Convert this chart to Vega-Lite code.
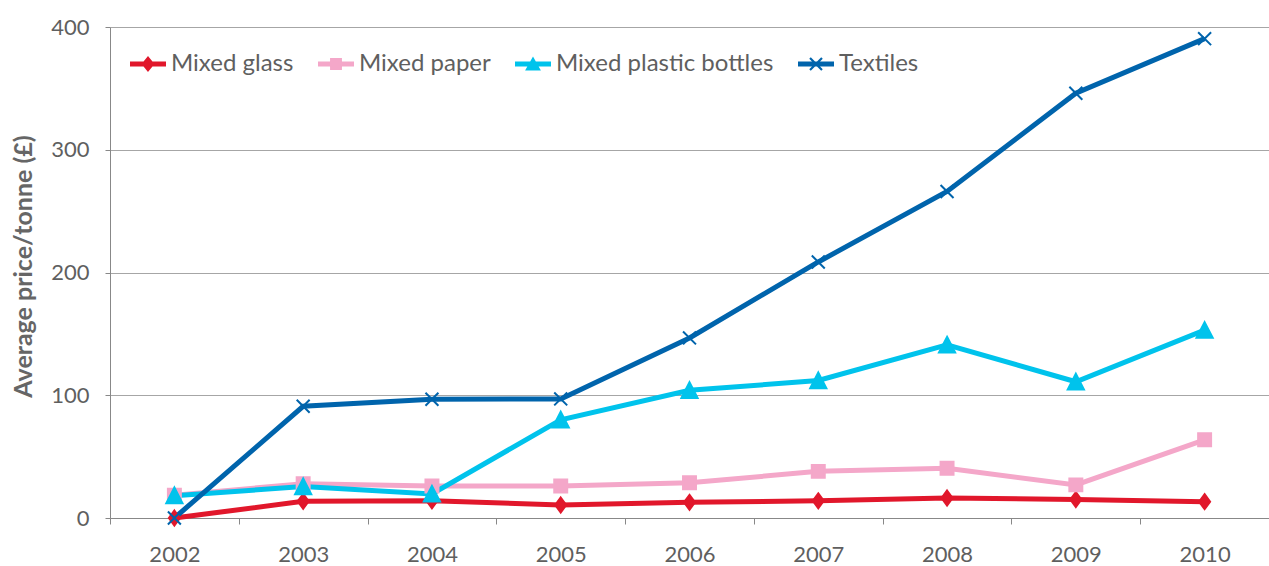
{
  "$schema": "https://vega.github.io/schema/vega-lite/v6.json",
  "width": 1159,
  "height": 491,
  "autosize": {"type": "none"},
  "padding": {"left": 110, "top": 27, "right": 0, "bottom": 48},
  "background": "white",
  "config": {"view": {"stroke": null}, "font": "Lato"},
  "data": {
    "values": [
      {"series": "Mixed glass", "year": "2002", "price": 0},
      {"series": "Mixed glass", "year": "2003", "price": 13.6},
      {"series": "Mixed glass", "year": "2004", "price": 14},
      {"series": "Mixed glass", "year": "2005", "price": 10.6},
      {"series": "Mixed glass", "year": "2006", "price": 12.8},
      {"series": "Mixed glass", "year": "2007", "price": 14},
      {"series": "Mixed glass", "year": "2008", "price": 16.3},
      {"series": "Mixed glass", "year": "2009", "price": 15},
      {"series": "Mixed glass", "year": "2010", "price": 13.3},
      {"series": "Mixed paper", "year": "2002", "price": 18.5},
      {"series": "Mixed paper", "year": "2003", "price": 28},
      {"series": "Mixed paper", "year": "2004", "price": 26},
      {"series": "Mixed paper", "year": "2005", "price": 26},
      {"series": "Mixed paper", "year": "2006", "price": 28.7},
      {"series": "Mixed paper", "year": "2007", "price": 38},
      {"series": "Mixed paper", "year": "2008", "price": 40.5},
      {"series": "Mixed paper", "year": "2009", "price": 27},
      {"series": "Mixed paper", "year": "2010", "price": 63.7},
      {"series": "Mixed plastic bottles", "year": "2002", "price": 18.2},
      {"series": "Mixed plastic bottles", "year": "2003", "price": 25.6},
      {"series": "Mixed plastic bottles", "year": "2004", "price": 19.6},
      {"series": "Mixed plastic bottles", "year": "2005", "price": 80},
      {"series": "Mixed plastic bottles", "year": "2006", "price": 104},
      {"series": "Mixed plastic bottles", "year": "2007", "price": 112},
      {"series": "Mixed plastic bottles", "year": "2008", "price": 141},
      {"series": "Mixed plastic bottles", "year": "2009", "price": 111},
      {"series": "Mixed plastic bottles", "year": "2010", "price": 153},
      {"series": "Textiles", "year": "2002", "price": 0},
      {"series": "Textiles", "year": "2003", "price": 91},
      {"series": "Textiles", "year": "2004", "price": 96.7},
      {"series": "Textiles", "year": "2005", "price": 97},
      {"series": "Textiles", "year": "2006", "price": 146.7},
      {"series": "Textiles", "year": "2007", "price": 208.6},
      {"series": "Textiles", "year": "2008", "price": 266},
      {"series": "Textiles", "year": "2009", "price": 346},
      {"series": "Textiles", "year": "2010", "price": 390.5}
    ]
  },
  "encoding": {
    "x": {
      "field": "year",
      "type": "ordinal",
      "scale": {"type": "point", "padding": 0.5},
      "axis": {
        "title": null,
        "labelAngle": 0,
        "tickOffset": -64.4,
        "labelOffset": 64.4,
        "tickSize": 6,
        "tickColor": "#888888",
        "domainColor": "#888888",
        "labelFontSize": 22,
        "labelColor": "#5f5f5f",
        "labelPadding": 20,
        "grid": false
      }
    },
    "y": {
      "field": "price",
      "type": "quantitative",
      "scale": {"domain": [0, 400]},
      "axis": {
        "title": "Average price/tonne (£)",
        "titleFontSize": 25,
        "titleFontWeight": "bold",
        "titleColor": "#666666",
        "titleX": -87,
        "titleY": 239,
        "titleBaseline": "middle",
        "titleAlign": "center",
        "titleAngle": -90,
        "values": [0, 100, 200, 300, 400],
        "tickSize": 5,
        "labelPadding": 16,
        "labelFontSize": 22,
        "labelColor": "#5f5f5f",
        "grid": true,
        "gridColor": "#a6a6a6",
        "domainColor": "#888888",
        "tickColor": "#888888"
      }
    }
  },
  "resolve": {
    "scale": {"shape": "independent"},
    "legend": {"color": "independent", "shape": "independent"}
  },
  "layer": [
    {
      "mark": {"type": "point", "filled": true, "opacity": 0, "size": 1296},
      "encoding": {
        "color": {
          "field": "series",
          "type": "nominal",
          "scale": {
            "domain": ["Mixed glass", "Mixed paper", "Mixed plastic bottles", "Textiles"],
            "range": ["#e1172b", "#f4a7c9", "#00c3ec", "#0064ac"]
          },
          "legend": {
            "title": null,
            "orient": "none",
            "legendX": 20,
            "legendY": 19,
            "direction": "horizontal",
            "symbolSize": 1296,
            "symbolOpacity": 1,
            "symbolStrokeWidth": 0,
            "labelFontSize": 24,
            "labelLimit": 500,
            "labelColor": "#5f5f5f",
            "labelOffset": 5,
            "columnPadding": 24,
            "padding": 0
          }
        },
        "shape": {
          "field": "series",
          "type": "nominal",
          "scale": {
            "domain": ["Mixed glass", "Mixed paper", "Mixed plastic bottles", "Textiles"],
            "range": [
              "M-1,-0.14H1V0.14H-1Z M0,-0.44L0.36,0L0,0.44L-0.36,0Z",
              "M-1,-0.14H1V0.14H-1Z M-0.33,-0.33H0.33V0.33H-0.33Z",
              "M-1,-0.14H1V0.14H-1Z M0,-0.42L0.44,0.36H-0.44Z",
              "M-1,-0.14H1V0.14H-1Z M0,0.085L-0.29,0.375L-0.375,0.29L-0.085,0L-0.375,-0.29L-0.29,-0.375L0,-0.085L0.29,-0.375L0.375,-0.29L0.085,0L0.375,0.29L0.29,0.375Z"
            ]
          },
          "legend": {
            "title": null,
            "orient": "none",
            "legendX": 20,
            "legendY": 19,
            "direction": "horizontal",
            "symbolSize": 1296,
            "symbolOpacity": 1,
            "symbolStrokeWidth": 0,
            "labelFontSize": 24,
            "labelLimit": 500,
            "labelColor": "#5f5f5f",
            "labelOffset": 5,
            "columnPadding": 24,
            "padding": 0
          }
        }
      }
    },
    {
      "mark": {"type": "line", "strokeWidth": 5},
      "encoding": {
        "stroke": {
          "field": "series",
          "type": "nominal",
          "scale": {
            "domain": ["Mixed glass", "Mixed paper", "Mixed plastic bottles", "Textiles"],
            "range": ["#e1172b", "#f4a7c9", "#00c3ec", "#0064ac"]
          },
          "legend": null
        }
      }
    },
    {
      "mark": {"type": "point", "filled": true, "size": 324, "opacity": 1, "strokeWidth": 2},
      "encoding": {
        "shape": {
          "field": "series",
          "type": "nominal",
          "scale": {
            "domain": ["Mixed glass", "Mixed paper", "Mixed plastic bottles", "Textiles"],
            "range": [
              "M0,-0.83L0.61,0L0,0.83L-0.61,0Z",
              "M-0.72,-0.72H0.72V0.72H-0.72Z",
              "M0,-0.9L0.9,0.85H-0.9Z",
              "M-0.72,-0.72L0.72,0.72M-0.72,0.72L0.72,-0.72"
            ]
          },
          "legend": null
        },
        "fill": {
          "field": "series",
          "type": "nominal",
          "scale": {
            "domain": ["Mixed glass", "Mixed paper", "Mixed plastic bottles", "Textiles"],
            "range": ["#e1172b", "#f4a7c9", "#00c3ec", "#0064ac"]
          },
          "legend": null
        },
        "stroke": {
          "field": "series",
          "type": "nominal",
          "scale": {
            "domain": ["Mixed glass", "Mixed paper", "Mixed plastic bottles", "Textiles"],
            "range": ["#e1172b", "#f4a7c9", "#00c3ec", "#0064ac"]
          },
          "legend": null
        }
      }
    }
  ]
}
